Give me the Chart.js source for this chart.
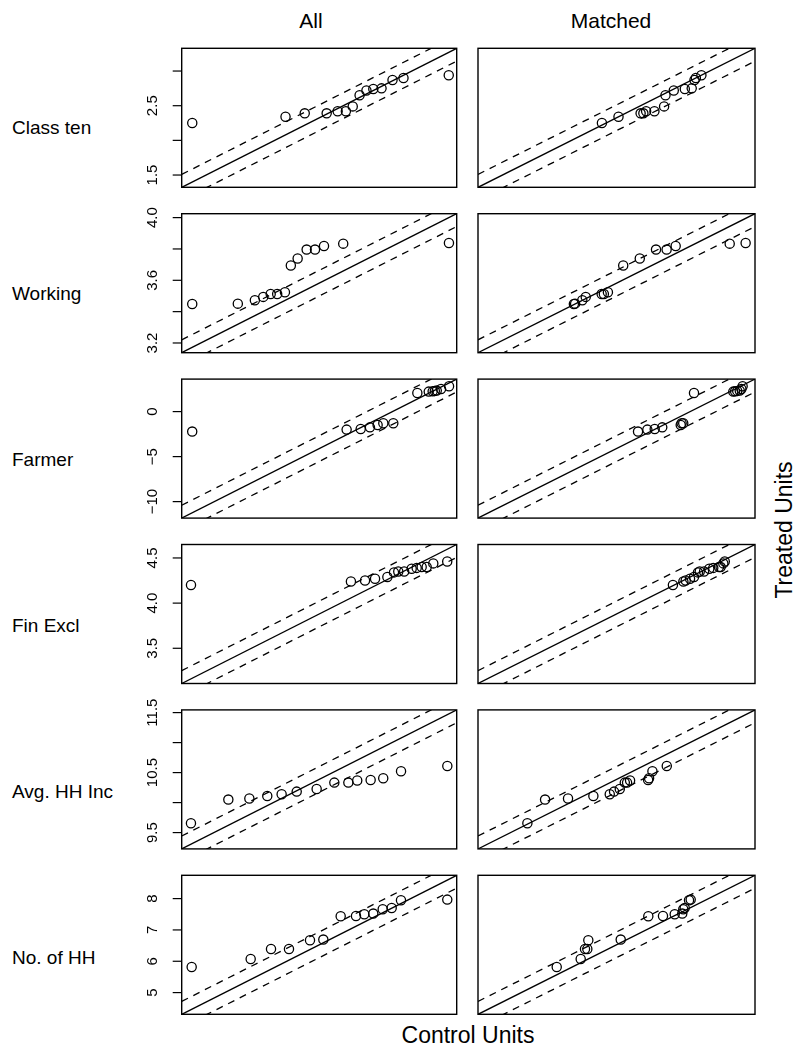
<!DOCTYPE html>
<html>
<head>
<meta charset="utf-8">
<script src="https://cdn.jsdelivr.net/npm/chart.js@4.4.1/dist/chart.umd.min.js"></script>
<style>
  body { margin: 0; background: #fff; }
  #page { position: relative; width: 798px; height: 1053px; overflow: hidden;
          font-family: "Liberation Sans", Arial, Helvetica, sans-serif; color: #000; }
  .txt { position: absolute; white-space: nowrap; transform: translate(-50%, -50%); line-height: 1; }
  .rowlab { position: absolute; white-space: nowrap; transform: translateY(-50%); font-size: 19px; line-height: 1; }
  canvas { position: absolute; }
</style>
</head>
<body>
<div id="page">
  <div class="txt" style="left:311px;top:20px;font-size:21px">All</div>
  <div class="txt" style="left:611px;top:20px;font-size:21px">Matched</div>
  <div class="txt" style="left:468px;top:1035px;font-size:23px">Control Units</div>
  <div class="txt" style="left:784px;top:530px;font-size:23px;transform:translate(-50%,-50%) rotate(-90deg)">Treated Units</div>
</div>
<script>
// QQ plots of treated vs control quantiles, one row per covariate
const rowNames = ['Class ten', 'Working', 'Farmer', 'Fin Excl', 'Avg. HH Inc', 'No. of HH'];
const rowLabelY = [127, 293, 459, 625, 791, 957];

// treated quantiles (y) - same units in both columns
const classTenTreated = [2.25, 2.34, 2.39, 2.39, 2.42, 2.42, 2.49, 2.65, 2.72, 2.74, 2.75, 2.87, 2.90, 2.94];
const workingTreated  = [3.449, 3.451, 3.473, 3.494, 3.513, 3.513, 3.524, 3.694, 3.739, 3.796, 3.796, 3.819, 3.834, 3.838];
const farmerTreated   = [-2.22, -2.00, -1.93, -1.75, -1.49, -1.30, -1.30, 2.07, 2.22, 2.25, 2.30, 2.33, 2.51, 2.81];
const finExclTreated  = [4.20, 4.24, 4.25, 4.27, 4.29, 4.34, 4.35, 4.35, 4.38, 4.39, 4.40, 4.40, 4.44, 4.46];
const hhIncTreated    = [9.655, 10.05, 10.067, 10.11, 10.138, 10.183, 10.227, 10.333, 10.333, 10.367, 10.377, 10.405, 10.522, 10.61];
const numHHTreated    = [5.817, 6.073, 6.392, 6.392, 6.669, 6.692, 7.435, 7.445, 7.499, 7.522, 7.659, 7.70, 7.946, 7.968];

// control quantiles (x), all controls
const classTenAll = [1.40, 2.08, 2.22, 2.38, 2.46, 2.52, 2.57, 2.62, 2.67, 2.72, 2.78, 2.86, 2.94, 3.27];
const workingAll  = [3.172, 3.319, 3.374, 3.401, 3.425, 3.446, 3.471, 3.490, 3.512, 3.541, 3.568, 3.597, 3.659, 4.000];
const farmerAll   = [-11.24, -2.57, -1.78, -1.26, -0.83, -0.51, 0.05, 1.40, 2.04, 2.26, 2.38, 2.49, 2.73, 3.18];
const finExclAll  = [3.162, 4.057, 4.136, 4.192, 4.261, 4.298, 4.322, 4.355, 4.397, 4.425, 4.453, 4.481, 4.518, 4.596];
const hhIncAll    = [9.306, 9.621, 9.798, 9.949, 10.07, 10.197, 10.365, 10.514, 10.632, 10.707, 10.82, 10.926, 11.076, 11.466];
const numHHAll    = [4.468, 5.42, 5.748, 6.038, 6.377, 6.592, 6.872, 7.119, 7.253, 7.398, 7.55, 7.695, 7.845, 8.592];

// control quantiles (x), matched controls
const classTenMatched = [2.22, 2.34, 2.50, 2.52, 2.54, 2.60, 2.67, 2.68, 2.74, 2.82, 2.87, 2.89, 2.90, 2.94];
const workingMatched  = [3.445, 3.449, 3.472, 3.483, 3.534, 3.541, 3.554, 3.603, 3.656, 3.708, 3.742, 3.771, 3.944, 3.995];
const farmerMatched   = [-2.91, -2.39, -1.98, -1.56, -0.53, -0.48, -0.39, 0.21, 2.40, 2.50, 2.62, 2.76, 2.85, 2.92];
const finExclMatched  = [4.193, 4.251, 4.264, 4.288, 4.310, 4.332, 4.342, 4.366, 4.395, 4.417, 4.449, 4.458, 4.473, 4.481];
const hhIncMatched    = [9.641, 9.789, 9.981, 10.193, 10.33, 10.366, 10.414, 10.456, 10.475, 10.50, 10.651, 10.659, 10.687, 10.807];
const numHHMatched    = [5.568, 5.952, 6.021, 6.058, 6.074, 6.593, 7.035, 7.27, 7.458, 7.579, 7.595, 7.618, 7.687, 7.714];

// axis limits (same for x and y in a row) and y ticks
const axisMin = [1.323, 3.138, -11.83, 3.110, 9.228, 4.307];
const axisMax = [3.328, 4.025, 3.61, 4.649, 11.545, 8.744];
const tickValues = [
  [1.5, 2.0, 2.5, 3.0],
  [3.2, 3.4, 3.6, 3.8, 4.0],
  [-10, -5, 0],
  [3.5, 4.0, 4.5],
  [9.5, 10.0, 10.5, 11.0, 11.5],
  [5, 6, 7, 8]
];
const tickLabels = [
  ['1.5', '', '2.5', ''],
  ['3.2', '', '3.6', '', '4.0'],
  ['\u221210', '\u22125', '0'],
  ['3.5', '4.0', '4.5'],
  ['9.5', '', '10.5', '', '11.5'],
  ['5', '6', '7', '8']
];

const treated = [classTenTreated, workingTreated, farmerTreated, finExclTreated, hhIncTreated, numHHTreated];
const controlAll = [classTenAll, workingAll, farmerAll, finExclAll, hhIncAll, numHHAll];
const controlMatched = [classTenMatched, workingMatched, farmerMatched, finExclMatched, hhIncMatched, numHHMatched];

// layout
const boxLeft = [181.7, 478];
const boxWidth = [275, 277];
const boxHeight = 139;
const firstTop = 48.3;
const rowStep = 165.4;
const margin = 20;

const page = document.getElementById('page');

rowNames.forEach((name, r) => {
  const d = document.createElement('div');
  d.className = 'rowlab';
  d.style.left = '12px';
  d.style.top = rowLabelY[r] + 'px';
  d.textContent = name;
  page.appendChild(d);
});

// box + y-axis ticks, R style
const panelFrame = {
  id: 'panelFrame',
  afterDatasetsDraw(chart, args, opts) {
    const { ctx, chartArea: a } = chart;
    ctx.save();
    ctx.strokeStyle = '#000';
    ctx.lineWidth = 1.4;
    ctx.strokeRect(a.left, a.top, a.right - a.left, a.bottom - a.top);
    if (opts.ticks) {
      const ys = chart.scales.y;
      ctx.lineWidth = 1.2;
      ctx.fillStyle = '#000';
      ctx.font = '15px "Liberation Sans", Arial, sans-serif';
      ctx.textAlign = 'center';
      ctx.textBaseline = 'alphabetic';
      opts.ticks.forEach((v, i) => {
        const py = ys.getPixelForValue(v);
        ctx.beginPath();
        ctx.moveTo(a.left - 9, py);
        ctx.lineTo(a.left, py);
        ctx.stroke();
        if (opts.labels[i]) {
          ctx.save();
          ctx.translate(a.left - 25, py);
          ctx.rotate(-Math.PI / 2);
          ctx.fillText(opts.labels[i], 0, 0);
          ctx.restore();
        }
      });
    }
    ctx.restore();
  }
};

function lineSet(lo, hi, shift, dashed) {
  return {
    data: [{ x: lo, y: lo + shift }, { x: hi, y: hi + shift }],
    showLine: true,
    borderColor: '#000',
    borderWidth: 1.3,
    borderDash: dashed ? [7, 6] : [],
    pointRadius: 0,
    fill: false
  };
}

function makePanel(r, c) {
  const lo = axisMin[r], hi = axisMax[r];
  const band = 0.1 * (hi - lo) / 1.08;
  const ys = treated[r];
  const xs = c === 0 ? controlAll[r] : controlMatched[r];
  const top = firstTop + r * rowStep;
  const cLeft = c === 0 ? 128 : Math.floor(boxLeft[c]) - 8;
  const cTop = Math.floor(top) - margin;
  const padL = boxLeft[c] - cLeft;
  const padT = top - cTop;
  const w = Math.ceil(padL + boxWidth[c] + 8);
  const h = Math.ceil(padT + boxHeight + margin);

  const canvas = document.createElement('canvas');
  canvas.width = w; canvas.height = h;
  canvas.style.left = cLeft + 'px';
  canvas.style.top = cTop + 'px';
  canvas.style.width = w + 'px';
  canvas.style.height = h + 'px';
  page.appendChild(canvas);

  new Chart(canvas, {
    type: 'scatter',
    data: {
      datasets: [
        {
          data: xs.map((x, i) => ({ x: x, y: ys[i] })),
          pointStyle: 'circle',
          pointRadius: 4.6,
          pointBorderWidth: 1.3,
          pointBorderColor: '#000',
          pointBackgroundColor: 'rgba(0,0,0,0)'
        },
        lineSet(lo, hi, 0, false),
        lineSet(lo, hi, band, true),
        lineSet(lo, hi, -band, true)
      ]
    },
    options: {
      responsive: false,
      animation: false,
      events: [],
      devicePixelRatio: 1,
      layout: { padding: { left: padL, top: padT, right: w - padL - boxWidth[c], bottom: h - padT - boxHeight } },
      scales: {
        x: { type: 'linear', min: lo, max: hi, display: false },
        y: { type: 'linear', min: lo, max: hi, display: false }
      },
      plugins: {
        legend: { display: false },
        tooltip: { enabled: false },
        panelFrame: c === 0 ? { ticks: tickValues[r], labels: tickLabels[r] } : {}
      }
    },
    plugins: [panelFrame]
  });
}

for (let r = 0; r < rowNames.length; r++) {
  makePanel(r, 0);
  makePanel(r, 1);
}
</script>
</body>
</html>
